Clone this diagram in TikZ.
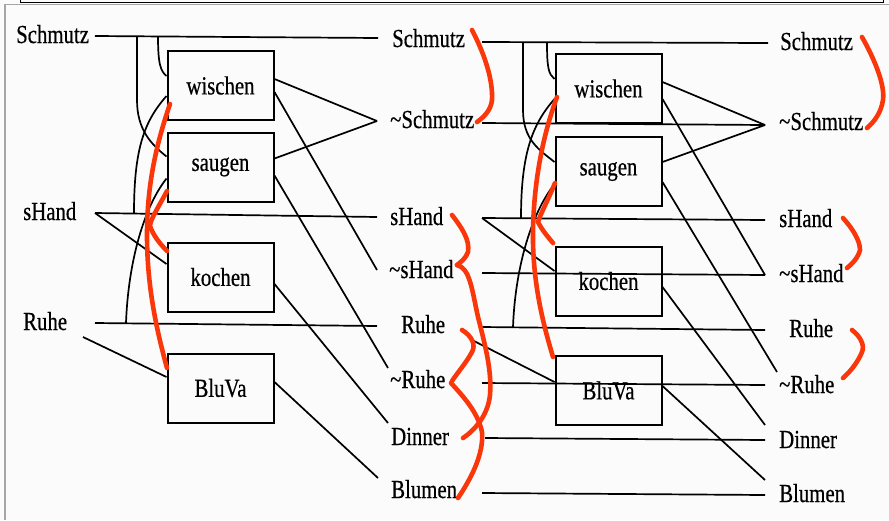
\documentclass[tikz,border=0pt]{standalone}
\usepackage{fontspec}
\setmainfont{Liberation Serif}
\newfontfamily\labelfont{Liberation Serif}[FakeBold=0.6]
\usetikzlibrary{calc}
\definecolor{redmark}{RGB}{250,55,10}
\newcommand{\nrw}[1]{\scalebox{0.8}[1]{#1}}
\begin{document}
\begin{tikzpicture}[x=1pt,y=-1pt,
  lit/.style={inner sep=0pt, anchor=base west, font=\labelfont\fontsize{26}{30}\selectfont},
  act/.style={draw, line width=2pt, minimum width=106pt, minimum height=69pt, inner sep=0pt, font=\labelfont\fontsize{26}{30}\selectfont},
  link/.style={line width=1.7pt},
  mutex/.style={draw=redmark, line width=4.6pt, line cap=round}]
\fill[gray!3] (0,0) rectangle (889,520);
\useasboundingbox (0,0) rectangle (889,520);
% frame of the scan
\draw[line width=1pt] (20,0) -- (20,2) -- (883,2) -- (883,0);
\draw[gray!70, line width=1.2pt] (5,520) -- (5,4.5) -- (889,4.5);

% level 0 literals
\node[lit] (l0S) at (16,43) {\nrw{Schmutz}};
\node[lit] (l0H) at (23,220) {\nrw{sHand}};
\node[lit] (l0R) at (23,330) {\nrw{Ruhe}};
% level 1 literals
\node[lit] (l1S)  at (392,47)  {\nrw{Schmutz}};
\node[lit] (l1nS) at (390,128) {\nrw{\textasciitilde Schmutz}};
\node[lit] (l1H)  at (390,225) {\nrw{sHand}};
\node[lit] (l1nH) at (389,278) {\nrw{\textasciitilde sHand}};
\node[lit] (l1R)  at (401,333) {\nrw{Ruhe}};
\node[lit] (l1nR) at (390,388) {\nrw{\textasciitilde Ruhe}};
\node[lit] (l1D)  at (391,445) {\nrw{Dinner}};
\node[lit] (l1B)  at (391,498) {\nrw{Blumen}};
% level 2 literals
\node[lit] (l2S)  at (780,50)  {\nrw{Schmutz}};
\node[lit] (l2nS) at (779,130) {\nrw{\textasciitilde Schmutz}};
\node[lit] (l2H)  at (779,227) {\nrw{sHand}};
\node[lit] (l2nH) at (779,282) {\nrw{\textasciitilde sHand}};
\node[lit] (l2R)  at (789,337) {\nrw{Ruhe}};
\node[lit] (l2nR) at (779,393) {\nrw{\textasciitilde Ruhe}};
\node[lit] (l2D)  at (779,448) {\nrw{Dinner}};
\node[lit] (l2B)  at (779,502) {\nrw{Blumen}};

% action layer 1
\node[act] (a1w) at (220.5,85.5) {\nrw{wischen}};
\node[act] (a1s) at (220.5,167)  {\nrw{saugen}};
\node[act] (a1k) at (220.5,277)  {\nrw{kochen}};
\node[act] (a1b) at (220.5,388)  {\nrw{BluVa}};
% action layer 2
\node[act] (a2w) at (608.5,88.5) {\nrw{wischen}};
\node[act] (a2s) at (608.5,171.5){\nrw{saugen}};
\node[act] (a2k) at (608.5,281)  {\nrw{kochen}};
\node[act] (a2b) at (608.5,390.5){\nrw{BluVa}};

% line end coordinates
\coordinate (o0S) at (95,36);  \coordinate (o0H) at (95,213);
\coordinate (o0R) at (95,323); \coordinate (o0Rb) at (83,337);
\coordinate (t0S1) at (158,36); \coordinate (t0S2) at (137,36);
\coordinate (t0H) at (134,213); \coordinate (t0R) at (126,323);
\coordinate (i1S) at (378,38);  \coordinate (i1nS) at (377,121);
\coordinate (i1H) at (377,217); \coordinate (i1nH) at (377,270);
\coordinate (i1R) at (377,326); \coordinate (i1nR) at (388,368);
\coordinate (i1D) at (388,423); \coordinate (i1B) at (378,478);
\coordinate (o1S) at (482,42);  \coordinate (o1nS) at (482,123);
\coordinate (o1H) at (482,218); \coordinate (o1nH) at (482,273);
\coordinate (o1R) at (482,327); \coordinate (o1Rb) at (472,340);
\coordinate (o1nR) at (482,383); \coordinate (o1D) at (485,438);
\coordinate (o1B) at (482,493);
\coordinate (t1S1) at (547,42); \coordinate (t1S2) at (523,42);
\coordinate (t1H) at (521,218); \coordinate (t1R) at (513,327);
\coordinate (i2S) at (768,43);  \coordinate (i2nS) at (765,125);
\coordinate (i2H) at (765,220); \coordinate (i2nH) at (765,275);
\coordinate (i2R) at (765,330); \coordinate (i2nRa) at (777,372);
\coordinate (i2nR) at (765,385); \coordinate (i2Da) at (765,425);
\coordinate (i2D) at (765,440); \coordinate (i2Ba) at (765,480);
\coordinate (i2B) at (765,495);

% ---- layer 1: no-ops
\draw[link] (o0S) -- (i1S);
\draw[link] (o0H) -- (i1H);
\draw[link] (o0R) -- (i1R);
% ---- layer 1: preconditions
\draw[link] (t0S1) .. controls +(0,28) and +(-6,-5) .. ($(a1w.north west)+(0,26)$);
\draw[link] (t0S2) -- (137,100) .. controls +(0,30) and +(-15,-12) .. ($(a1s.north west)+(0,25)$);
\draw[link] ($(a1w.north west)+(0,46)$) .. controls +(-22,25) and +(0,-65) .. (t0H);
\draw[link] (t0R) .. controls +(2,-55) and +(-25,32) .. ($(a1s.north west)+(0,47)$);
\draw[link] (o0H) -- ($(a1k.north west)+(0,22.5)$);
\draw[link] (o0Rb) -- ($(a1b.north west)+(0,24.5)$);
% ---- layer 1: effects
\draw[link] ($(a1w.north east)+(0,29)$) -- (i1nS);
\draw[link] ($(a1w.north east)+(0,42)$) -- (i1nH);
\draw[link] ($(a1s.north east)+(0,27)$) -- (i1nS);
\draw[link] ($(a1s.north east)+(0,44)$) -- (i1nR);
\draw[link] ($(a1k.north east)+(0,42.5)$) -- (i1D);
\draw[link] ($(a1b.north east)+(0,29.5)$) -- (i1B);

% ---- layer 2: no-ops
\draw[link] (o1S) -- (i2S);
\draw[link] (o1nS) -- (i2nS);
\draw[link] (o1H) -- (i2H);
\draw[link] (o1nH) -- (i2nH);
\draw[link] (o1R) -- (i2R);
\draw[link] (o1nR) -- (i2nR);
\draw[link] (o1D) -- (i2D);
\draw[link] (o1B) -- (i2B);
% ---- layer 2: preconditions
\draw[link] (t1S1) .. controls +(0,26) and +(-6,-5) .. ($(a2w.north west)+(0,26)$);
\draw[link] (t1S2) -- (523,110) .. controls +(0,30) and +(-15,-12) .. ($(a2s.north west)+(0,26)$);
\draw[link] ($(a2w.north west)+(0,46)$) .. controls +(-22,25) and +(0,-65) .. (t1H);
\draw[link] (t1R) .. controls +(2,-55) and +(-25,32) .. ($(a2s.north west)+(0,48)$);
\draw[link] (o1H) -- ($(a2k.north west)+(0,25.5)$);
\draw[link] (o1Rb) -- ($(a2b.north west)+(0,27)$);
% ---- layer 2: effects
\draw[link] ($(a2w.north east)+(0,29)$) -- (i2nS);
\draw[link] ($(a2w.north east)+(0,46)$) -- (i2nH);
\draw[link] ($(a2s.north east)+(0,26)$) -- (i2nS);
\draw[link] ($(a2s.north east)+(0,46)$) -- (i2nRa);
\draw[link] ($(a2k.north east)+(0,41.5)$) -- (i2Da);
\draw[link] ($(a2b.north east)+(0,31)$) -- (i2Ba);

% ---- red hand-drawn mutex marks
\draw[mutex] (170,104) .. controls (156,145) and (147,185) .. (147,235) .. controls (147,290) and (158,335) .. (167,368);
\draw[mutex] (167,191) .. controls (158,208) and (150,220) .. (150,226) .. controls (153,235) and (160,244) .. (167,251);
\draw[mutex] (472,30) .. controls (485,55) and (493,80) .. (492,100) .. controls (491,110) and (484,117) .. (477,122);
\draw[mutex] (452,215) .. controls (462,228) and (470,240) .. (468,252) .. controls (466,258) and (461,262) .. (457,265);
\draw[mutex] (457,265) .. controls (470,268) and (472,290) .. (478,317) .. controls (485,345) and (492,370) .. (490,395) .. controls (488,415) and (475,430) .. (463,438);
\draw[mutex] (462,330) .. controls (472,336) and (476,345) .. (472,352) .. controls (466,363) and (458,372) .. (452,381);
\draw[mutex] (451,383) .. controls (462,395) and (478,412) .. (482,432) .. controls (484,455) and (470,480) .. (458,498);
\draw[mutex] (557,97) .. controls (543,135) and (534,180) .. (533,230) .. controls (532,285) and (545,330) .. (553,357);
\draw[mutex] (555,183) .. controls (548,200) and (540,215) .. (538,222) .. controls (542,230) and (548,237) .. (553,243);
\draw[mutex] (862,37) .. controls (875,60) and (885,85) .. (883,100) .. controls (881,113) and (874,122) .. (867,128);
\draw[mutex] (843,218) .. controls (852,228) and (860,240) .. (860,250) .. controls (858,258) and (852,264) .. (847,268);
\draw[mutex] (852,330) .. controls (860,336) and (865,345) .. (862,352) .. controls (858,362) and (850,372) .. (843,378);
\end{tikzpicture}
\end{document}
